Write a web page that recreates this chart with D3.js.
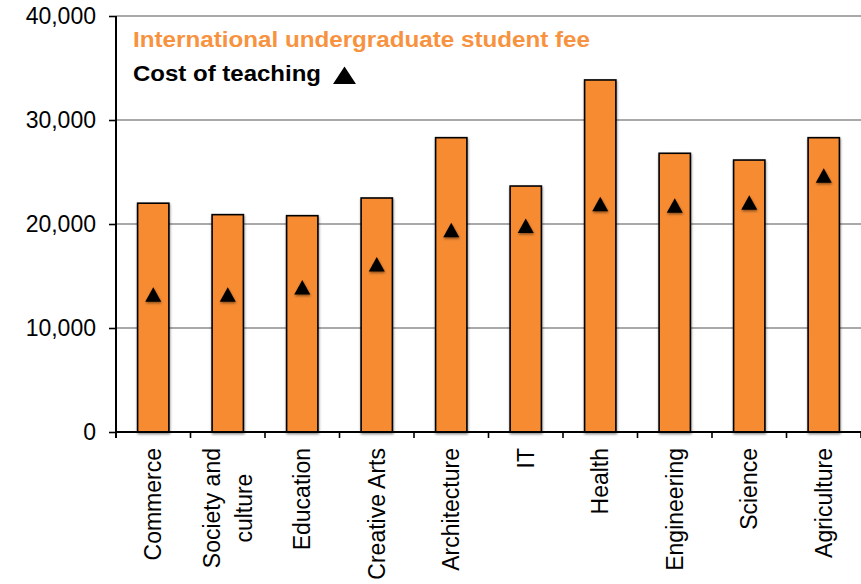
<!DOCTYPE html>
<html>
<head>
<meta charset="utf-8">
<script src="https://cdn.jsdelivr.net/npm/d3@7"></script>
<style>
  body { margin: 0; background: #fff; }
  svg { display: block; font-family: "Liberation Sans", Arial, sans-serif; }
</style>
</head>
<body>
<svg width="861" height="584"></svg>
<script>
// Data
var categories = ["Commerce", "Society and\nculture", "Education", "Creative Arts", "Architecture",
                  "IT", "Health", "Engineering", "Science", "Agriculture"];
var studentFee = [22000, 20900, 20800, 22500, 28300, 23650, 33850, 26800, 26150, 28300];
var teachingCost = [13200, 13200, 13900, 16100, 19400, 19800, 21900, 21750, 22050, 24650];
var yTicks = [0, 10000, 20000, 30000, 40000];

var svg = d3.select("svg"),
    width = +svg.attr("width"),
    height = +svg.attr("height");

var x = d3.scaleBand()
    .domain(categories)
    .range([116, 861])
    .paddingInner(0.58)
    .paddingOuter(0.29);

var xTick = d3.scaleLinear()
    .domain([0, categories.length])
    .range([116, 861]);

var y = d3.scaleLinear()
    .domain([0, 40000])
    .range([432, 16]);

var defs = svg.append("defs");
var shadow = defs.append("filter").attr("id", "shadow")
    .attr("x", "-30%").attr("y", "-30%").attr("width", "160%").attr("height", "160%");
shadow.append("feDropShadow")
    .attr("dx", 0.5).attr("dy", 1.5).attr("stdDeviation", 1)
    .attr("flood-color", "#000").attr("flood-opacity", 0.45);

// gridlines
svg.append("g")
  .selectAll("line")
  .data(yTicks.filter(function(d) { return d > 0; }))
  .enter().append("line")
    .attr("x1", 116)
    .attr("x2", width)
    .attr("y1", function(d) { return y(d); })
    .attr("y2", function(d) { return y(d); })
    .attr("stroke", "#8c8c8c")
    .attr("stroke-width", 1.6);

// y axis
var yAxis = svg.append("g")
    .attr("transform", "translate(116,0)")
    .call(d3.axisLeft(y)
      .tickValues(yTicks)
      .tickSize(7)
      .tickPadding(13)
      .tickFormat(d3.format(",")));
yAxis.select(".domain").attr("stroke", "#000").attr("stroke-width", 2)
    .attr("d", "M0," + y(40000) + "V" + (y(0) + 6));
yAxis.selectAll(".tick line").attr("stroke", "#000").attr("stroke-width", 1.6);
yAxis.selectAll(".tick text")
    .attr("font-size", 23)
    .attr("fill", "#000")
    .attr("font-family", "Liberation Sans, Arial, sans-serif");

// bars
svg.append("g")
  .selectAll("rect")
  .data(categories)
  .enter().append("rect")
    .attr("x", function(d) { return x(d); })
    .attr("y", function(d, i) { return y(studentFee[i]); })
    .attr("width", x.bandwidth())
    .attr("height", function(d, i) { return y(0) - y(studentFee[i]); })
    .attr("fill", "#f68b33")
    .attr("stroke", "#000")
    .attr("stroke-width", 1.6)
    .attr("filter", "url(#shadow)");

// x axis
svg.append("line")
    .attr("x1", 116).attr("x2", width)
    .attr("y1", y(0)).attr("y2", y(0))
    .attr("stroke", "#000").attr("stroke-width", 2);

svg.append("g")
  .selectAll("line")
  .data(d3.range(categories.length + 1))
  .enter().append("line")
    .attr("x1", function(d) { return xTick(d); })
    .attr("x2", function(d) { return xTick(d); })
    .attr("y1", y(0))
    .attr("y2", y(0) + 6)
    .attr("stroke", "#000")
    .attr("stroke-width", 1.6);

// category labels, rotated; multi-line labels are centred on their longest line
var lab = svg.append("g")
  .selectAll("text")
  .data(categories)
  .enter().append("text")
    .attr("font-size", 23)
    .attr("fill", "#000");

lab.each(function(d) {
  var lines = d.split("\n");
  var t = d3.select(this);
  lines.forEach(function(l, i) {
    t.append("tspan")
      .attr("x", 0)
      .attr("y", (i - (lines.length - 1) / 2) * 31.5 + 8)
      .text(l);
  });
  var cx = x(d) + x.bandwidth() / 2;
  if (lines.length > 1) {
    var maxLen = 0;
    t.selectAll("tspan").each(function() {
      maxLen = Math.max(maxLen, this.getComputedTextLength());
    });
    t.attr("text-anchor", "middle")
     .attr("transform", "translate(" + cx + "," + (448 + maxLen / 2) + ") rotate(-90)");
  } else {
    t.attr("text-anchor", "end")
     .attr("transform", "translate(" + cx + ",448) rotate(-90)");
  }
});

// teaching cost triangles
var tri = "M0,-7.5L8,7L-8,7Z";
svg.append("g")
  .selectAll("path")
  .data(categories)
  .enter().append("path")
    .attr("d", tri)
    .attr("transform", function(d, i) {
      return "translate(" + (x(d) + x.bandwidth() / 2) + "," + y(teachingCost[i]) + ")";
    })
    .attr("fill", "#000")
    .attr("filter", "url(#shadow)");

// legend
svg.append("text")
    .attr("x", 133)
    .attr("y", 47)
    .attr("font-size", 22.5)
    .attr("font-weight", "bold")
    .attr("fill", "#f79340")
    .attr("textLength", 457)
    .attr("lengthAdjust", "spacingAndGlyphs")
    .text("International undergraduate student fee");

svg.append("text")
    .attr("x", 133)
    .attr("y", 81)
    .attr("font-size", 22.5)
    .attr("font-weight", "bold")
    .attr("fill", "#000")
    .attr("textLength", 188)
    .attr("lengthAdjust", "spacingAndGlyphs")
    .text("Cost of teaching");

svg.append("path")
    .attr("d", "M344.5,66.5L356,84L333,84Z")
    .attr("fill", "#000");
</script>
</body>
</html>
